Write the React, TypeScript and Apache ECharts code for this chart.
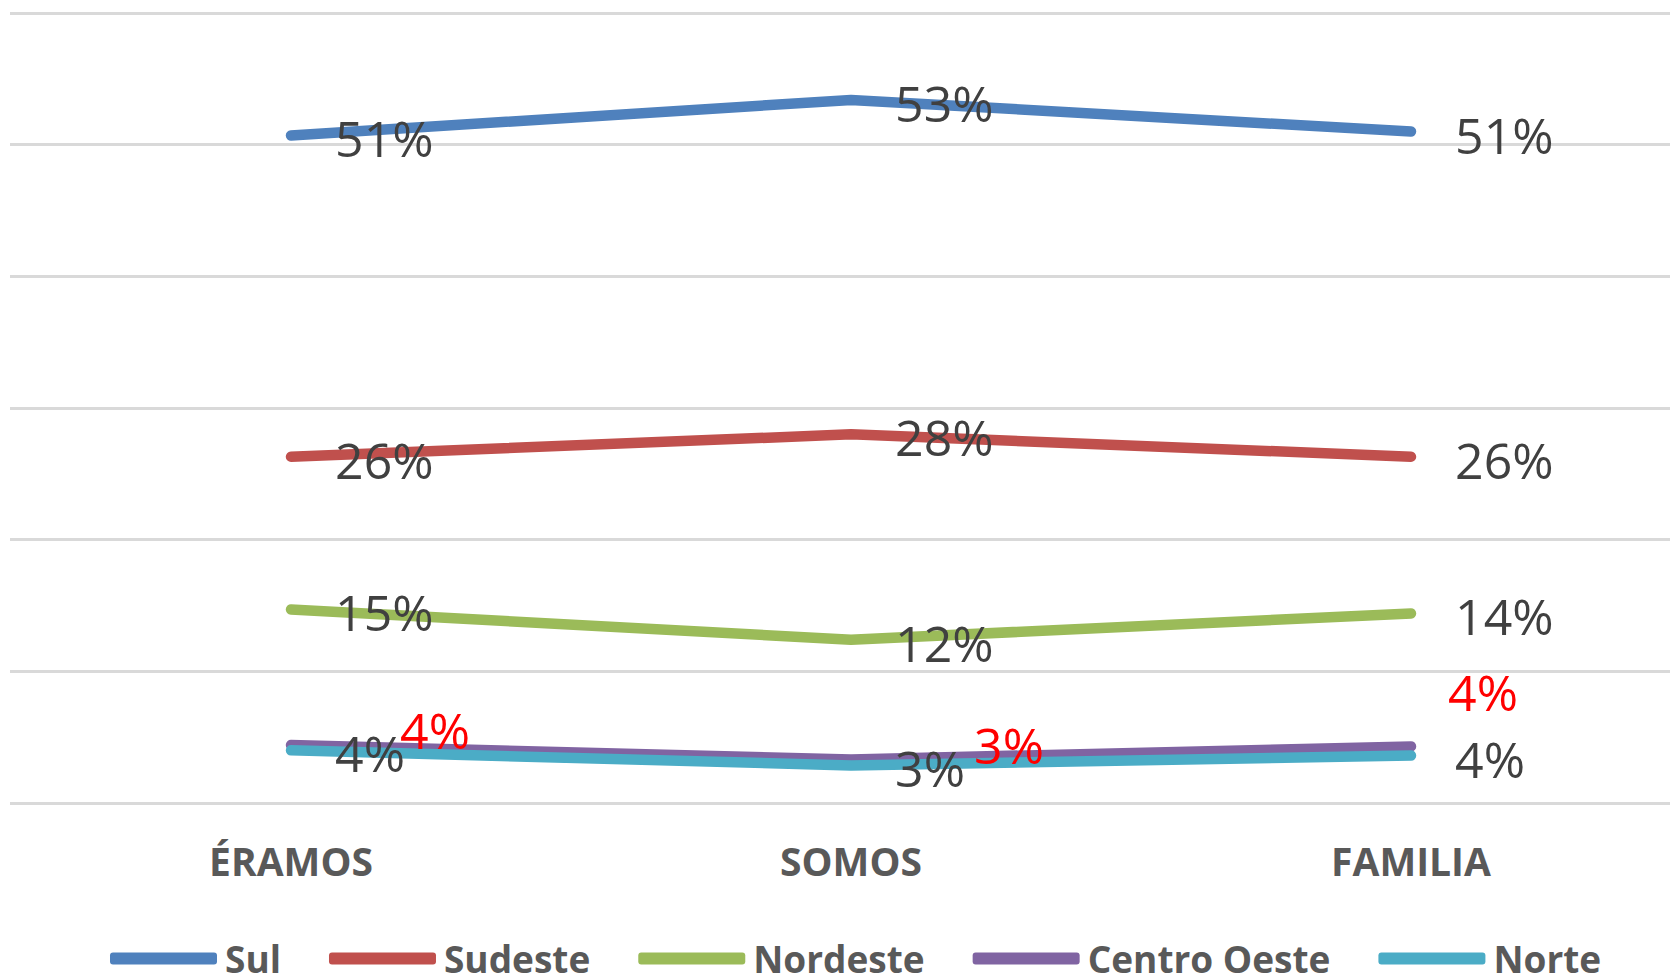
import React, { useEffect, useRef } from "react";
import * as echarts from "echarts";

const categories = ["ÉRAMOS", "SOMOS", "FAMILIA"];
const seriesNames = ["Sul", "Sudeste", "Nordeste", "Centro Oeste", "Norte"];
const sul = [50.7, 53.4, 51.0];
const sudeste = [26.3, 28.0, 26.3];
const nordeste = [14.7, 12.4, 14.4];
const centroOeste = [4.4, 3.3, 4.3];
const norte = [4.0, 2.85, 3.6];
const yTicks = [0, 10, 20, 30, 40, 50, 60];

const colors = ["#4f81bd", "#c0504d", "#9bbb59", "#8064a2", "#4bacc6"];
const coLabelOffsets = [
  [65, -15],
  [79, -15],
  [-7, -54],
];

const FONT = "'Open Sans', 'Liberation Sans', sans-serif";

export default function App() {
  const ref = useRef<HTMLDivElement>(null);
  useEffect(() => {
    if (!ref.current) return;
    const chart = echarts.init(ref.current, undefined, { renderer: "svg" });
    const values = [sul, sudeste, nordeste, centroOeste, norte];
    const fmt = (p: any) => Math.round(p.value) + "%";
    const series = values.map((vals, si) => {
      const isCO = si === 3;
      return {
        name: seriesNames[si],
        type: "line",
        xAxisIndex: 1,
        yAxisIndex: 1,
        data: vals.map((v, i) =>
          isCO ? { value: v, label: { offset: coLabelOffsets[i] } } : { value: v }
        ),
        symbol: "circle",
        symbolSize: 0.1,
        showSymbol: true,
        itemStyle: { color: colors[si] },
        lineStyle: { width: 10.5, color: colors[si], cap: "round", join: "round" },
        label: {
          show: true,
          position: "right",
          distance: 44,
          offset: [0, 3],
          formatter: fmt,
          fontFamily: FONT,
          fontSize: 50,
          color: isCO ? "#ff0000" : "#404040",
        },
        emphasis: { disabled: true },
      };
    });
    const yMin = yTicks[0];
    const yMax = yTicks[yTicks.length - 1];
    chart.setOption({
      animation: false,
      color: colors,
      grid: [
        { left: 10, right: 0, top: 13, height: 790 },
        { left: 291, width: 1120, top: 13, height: 790 },
      ],
      xAxis: [
        {
          gridIndex: 0,
          type: "value",
          show: false,
        },
        {
          gridIndex: 1,
          type: "category",
          data: categories,
          boundaryGap: false,
          axisLine: { show: false },
          axisTick: { show: false },
          splitLine: { show: false },
          axisLabel: {
            margin: 38,
            fontFamily: FONT,
            fontWeight: "bold",
            fontSize: 39,
            color: "#595959",
          },
        },
      ],
      yAxis: [
        {
          gridIndex: 0,
          type: "value",
          min: yMin,
          max: yMax,
          interval: 10,
          axisLabel: { show: false },
          axisLine: { show: false },
          axisTick: { show: false },
          splitLine: { lineStyle: { color: "#d9d9d9", width: 3 } },
        },
        {
          gridIndex: 1,
          type: "value",
          min: yMin,
          max: yMax,
          interval: 10,
          show: false,
          splitLine: { show: false },
        },
      ],
      legend: {
        data: seriesNames.map((n) => ({ name: n, icon: "roundRect" })),
        left: 110,
        top: 940,
        padding: 0,
        itemWidth: 107,
        itemHeight: 12,
        itemGap: 48,
        textStyle: {
          fontFamily: FONT,
          fontWeight: "bold",
          fontSize: 37,
          color: "#595959",
          padding: [0, 0, 0, 3],
        },
      },
      series,
    });
    return () => chart.dispose();
  }, []);
  return (
    <div
      ref={ref}
      style={{ position: "fixed", left: 0, top: 0, width: 1670, height: 977, background: "#fff" }}
    />
  );
}
